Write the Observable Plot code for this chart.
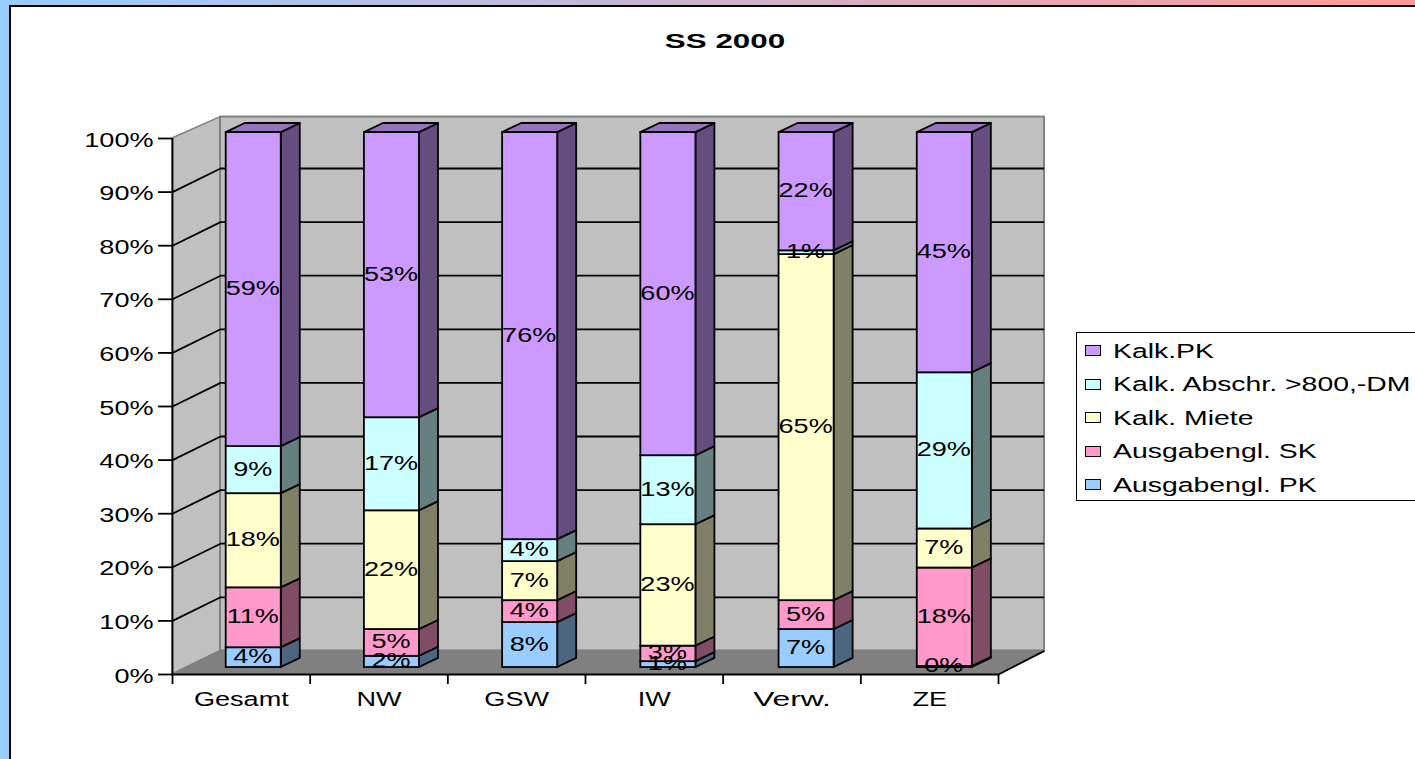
<!DOCTYPE html>
<html>
<head>
<meta charset="utf-8">
<script src="https://cdn.jsdelivr.net/npm/d3@7"></script>
<script src="https://cdn.jsdelivr.net/npm/@observablehq/plot@0.6"></script>
<style>
html,body{margin:0;padding:0;width:1415px;height:759px;overflow:hidden;background:#fff}
body{position:relative;font-family:"Liberation Sans",Arial,sans-serif;color:#000}
#strip{position:absolute;left:0;top:0;width:1415px;height:5px;background:linear-gradient(to right,#99ccff,#ff9999)}
#side{position:absolute;left:0;top:0;width:9px;height:759px;background:#99ccff}
#frame{position:absolute;left:9px;top:5px;width:1500px;height:900px;border:2px solid #000;background:#fff}
#chart{position:absolute;left:0;top:0}
#title{position:absolute;left:725px;top:29px;font-size:20.5px;font-weight:bold;white-space:nowrap;transform:translateX(-50%) scaleX(1.53)}
#legend{position:absolute;left:1076px;top:332px;width:400px;height:167px;border:1.5px solid #000;background:#fff}
.row{position:absolute;left:8px;height:33px;display:flex;align-items:center}
.sw{width:14px;height:9px;border:1.5px solid #000;margin-right:12px}
.lb{font-size:20.5px;white-space:nowrap;transform-origin:left center;transform:scaleX(1.385)}
</style>
</head>
<body>
<div id="strip"></div><div id="side"></div><div id="frame"></div>
<div id="chart"></div>
<div id="title">SS 2000</div>
<div id="legend"></div>
<script>
const categories = ["Gesamt", "NW", "GSW", "IW", "Verw.", "ZE"];
const seriesNames = ["Ausgabengl. PK", "Ausgabengl. SK", "Kalk. Miete", "Kalk. Abschr. >800,-DM", "Kalk.PK"];
const ausgabenglPK = [3.7, 2.1, 8.4, 1.1, 7.1, 0.2];
const ausgabenglSK = [11.2, 5.0, 4.1, 2.9, 5.4, 18.4];
const kalkMiete = [17.6, 22.2, 7.3, 22.7, 64.7, 7.3];
const kalkAbschr = [8.8, 17.4, 4.1, 12.9, 0.7, 29.2];
const kalkPK = [58.7, 53.3, 76.1, 60.4, 22.1, 44.9];
const seriesValues = [ausgabenglPK, ausgabenglSK, kalkMiete, kalkAbschr, kalkPK];
const frontColors = ["#99ccff", "#ff99cc", "#ffffcc", "#ccffff", "#cc99ff"];
const sideColors = ["#4c6680", "#804c66", "#808066", "#668080", "#654d7f"];
const topColor = "#9773bf";
const percentTicks = d3.range(0, 101, 10);

// Depth of the 3-D box and of each column, in scale units
const wallDX = 0.349, wallDY = 4.4, wallRight = 6.334, wallTop = 104.0;
const barDX = 0.138, barDY = 1.7;
const shiftX = 0.09, shiftY = 1.3, barStep = 1.004, barScale = 0.998;
const barHalf = 0.2;

const fronts = [], sides = [], tops = [];
categories.forEach((c, i) => {
  let acc = shiftY;
  const xL = i * barStep + 0.5 + shiftX - barHalf, xR = i * barStep + 0.5 + shiftX + barHalf;
  seriesValues.forEach((vals, s) => {
    const lo = acc, hi = acc + vals[i] * barScale;
    acc = hi;
    fronts.push({xL, xR, lo, hi, color: frontColors[s], label: Math.round(vals[i]) + "%", xm: (xL + xR) / 2 - 0.007, ym: (lo + hi) / 2 + 0.2});
    for (const k of [0, 1]) sides.push({id: c + s, x: xR + k * barDX, y1: lo + k * barDY, y2: hi + k * barDY, color: sideColors[s]});
    if (s === seriesValues.length - 1)
      for (const k of [0, 1]) tops.push({id: c, x1: xL + k * barDX, x2: xR + k * barDX, y: hi + k * barDY, color: topColor});
  });
});
const wallLeft = [0, 1].map(k => ({x: k * wallDX, y1: k * wallDY, y2: k ? wallTop : 100}));
const floor = [0, 1].map(k => ({x1: k * wallDX, x2: k ? wallRight : 6, y: k * wallDY}));
const innerTicks = percentTicks.filter(t => t > 0 && t < 100);
const line = {stroke: "#000", strokeWidth: 1.8};
const ax = {fontSize: 20.5, fontFamily: "Liberation Sans", stroke: "#000", strokeWidth: 1.8, fill: "#000", label: null};
const face = {stroke: "#000", strokeWidth: 1.8};

const plot = Plot.plot({
  width: 1415, height: 759,
  marginLeft: 172, marginRight: 417, marginTop: 138, marginBottom: 85,
  style: {background: "transparent", overflow: "visible"},
  x: {domain: [0, 6]},
  y: {domain: [0, 100]},
  color: {type: "identity"},
  marks: [
    Plot.area(wallLeft, {x1: "x", x2: "x", y1: "y1", y2: "y2", fill: "#c0c0c0", stroke: "#808080", strokeWidth: 1.5}),
    Plot.rect([0], {x1: () => wallDX, x2: () => wallRight, y1: () => wallDY, y2: () => wallTop, fill: "#c0c0c0", stroke: "#808080", strokeWidth: 2}),
    Plot.area(floor, {x1: "x1", x2: "x2", y1: "y", y2: "y", fill: "#808080", stroke: "#808080"}),
    Plot.ruleY(innerTicks, {y: t => t + wallDY, x1: () => wallDX, x2: () => wallRight, ...line}),
    Plot.link(innerTicks, {x1: () => 0, y1: t => t, x2: () => wallDX, y2: t => t + wallDY, ...line}),
    Plot.link([0], {x1: () => 6, y1: () => 0, x2: () => wallRight, y2: () => wallDY, ...line}),
    Plot.ruleX([0], line),
    Plot.ruleY([0], {stroke: "#000", strokeWidth: 2}),
    Plot.axisY({...ax, ticks: percentTicks, tickSize: 14, tickFormat: () => ""}),
    Plot.axisY({...ax, ticks: percentTicks, tickSize: 0, tickPadding: 19, dy: 1.5, tickFormat: d => d + "%"}),
    Plot.axisX({...ax, ticks: d3.range(0, 7), tickSize: 10, tickFormat: () => ""}),
    Plot.axisX({...ax, ticks: d3.range(0, 6).map(i => i + 0.5), tickSize: 0, tickPadding: 17, tickFormat: d => categories[d - 0.5]}),
    Plot.area(sides, {x1: "x", x2: "x", y1: "y1", y2: "y2", z: "id", fill: "color", ...face}),
    Plot.area(tops, {x1: "x1", x2: "x2", y1: "y", y2: "y", z: "id", fill: "color", ...face}),
    Plot.rect(fronts, {x1: "xL", x2: "xR", y1: "lo", y2: "hi", fill: "color", ...face}),
    Plot.text(fronts, {x: "xm", y: "ym", text: "label", fontSize: 20.5, fontFamily: "Liberation Sans", fill: "#000"})
  ]
});
document.getElementById("chart").appendChild(plot);

// The reference's lettering is stretched sideways
plot.querySelectorAll("text").forEach(t => {
  const len = t.getComputedTextLength();
  if (len > 0) {
    const k = t.textContent === "Verw." ? 1.55 : 1.32;
    t.setAttribute("textLength", len * k);
    t.setAttribute("lengthAdjust", "spacingAndGlyphs");
    t.style.stroke = "none";
  }
});

const legend = document.getElementById("legend");
seriesNames.map((n, i) => ({n, c: frontColors[i]})).reverse().forEach((d, i) => {
  const row = document.createElement("div");
  row.className = "row";
  row.style.top = (1 + i * 33.5) + "px";
  row.innerHTML = `<span class="sw" style="background:${d.c}"></span>`;
  const lb = document.createElement("span");
  lb.className = "lb";
  lb.textContent = d.n;
  row.appendChild(lb);
  legend.appendChild(row);
});
</script>
</body>
</html>
